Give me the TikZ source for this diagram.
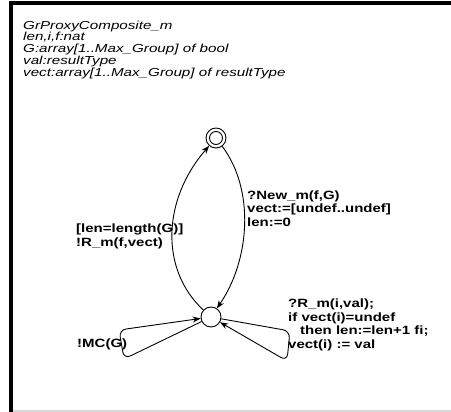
\documentclass[tikz,border=0pt]{standalone}
\usepackage{fontspec}
\setmainfont{Liberation Sans}
\newfontfamily\hdrfont[FakeStretch=1.31]{Liberation Sans}
\newfontfamily\lblfont[FakeStretch=1.25]{Liberation Sans}
\usetikzlibrary{arrows.meta}
\begin{document}
\begin{tikzpicture}[x=1pt,y=-1pt,
  st/.style={circle,draw,line width=0.9pt,minimum size=20pt,inner sep=0pt},
  lbl/.style={anchor=base west,inner sep=0pt,align=left,font=\lblfont\bfseries\fontsize{12}{13.5}\selectfont},
  hdr/.style={anchor=base west,inner sep=0pt,align=left,font=\hdrfont\itshape\fontsize{11.6}{11.9}\selectfont},
  edge/.style={line width=0.9pt,-{Stealth[length=8pt,width=6pt,inset=2.5pt]}},
  plain/.style={line width=0.9pt}]
\useasboundingbox (0,0) rectangle (451,412);
\fill[white] (0,0) rectangle (451,412);
\draw[black!15, line width=1.5pt] (13,411) -- (451,411);
\draw[line width=4pt] (11,412) -- (11,3) -- (451,3);
\node[hdr] (hdr) at (23,76.6) {GrProxyComposite\_m\\len,i,f:nat\\G:array[1..Max\_Group] of bool\\val:resultType\\vect:array[1..Max\_Group] of resultType};
\node[st] (F) at (216,138) {};
\draw[plain] (F) circle (6.5);
\node[st] (I) at (211,317) {};
\draw[edge] (I) .. controls (160,270) and (162,200) .. (F);
\draw[edge] (F) .. controls (255,190) and (250,260) .. (I);
\draw[edge,rounded corners=7pt] (I) -- (124,359) -- (119,330) -- (I);
\draw[edge,rounded corners=7pt] (I) -- (290,331) -- (287,361) -- (I);
\node[lbl] (l1) at (247,226.3) {?New\_m(f,G)\\vect:={[}undef..undef]\\len:=0};
\node[lbl] (l2) at (76,246.5) {{[}len=length(G)]\\!R\_m(f,vect)};
\node[lbl] (l3) at (77,348) {!MC(G)};
\node[lbl] (l4) at (288,348.5) {?R\_m(i,val);\\if vect(i)=undef\\\hspace*{12pt}then len:=len+1 fi;\\vect(i) := val};
\end{tikzpicture}
\end{document}
